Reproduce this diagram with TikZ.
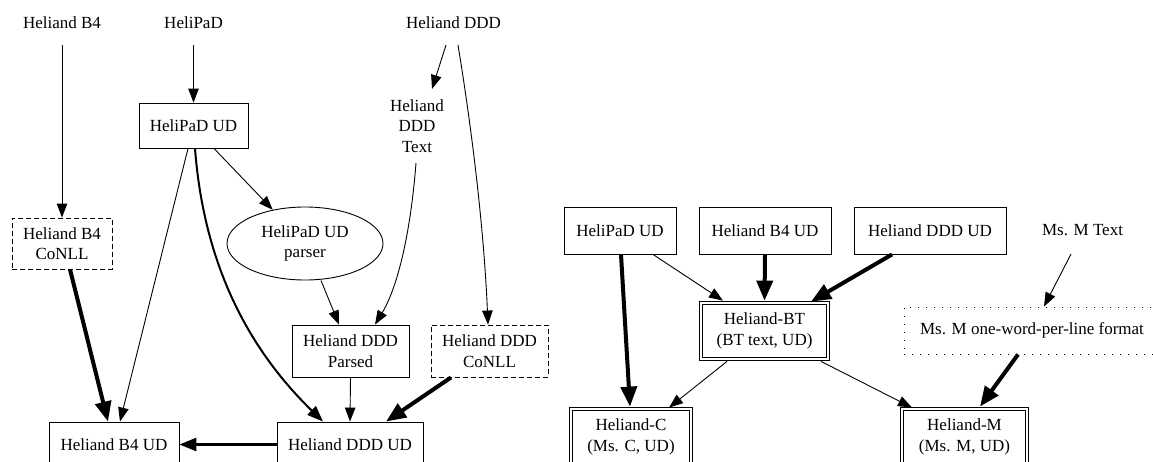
\documentclass[tikz,border=0pt]{standalone}
\usepackage{fontspec}
\setmainfont{Liberation Serif}
\usetikzlibrary{arrows.meta,shapes.geometric}
\tikzset{
  lbl/.style={font=\fontsize{17}{20.5}\selectfont, align=center, inner sep=0pt},
  box/.style={lbl, draw, line width=0.9pt, rectangle},
  dbox/.style={box, dash pattern=on 5pt off 3pt},
  obox/.style={box, dash pattern=on 1pt off 7pt},
  wbox/.style={lbl, draw, line width=0.8pt, double, double distance=2.4pt, rectangle},
  ell/.style={lbl, draw, line width=0.9pt, ellipse, inner sep=0pt},
  ethin/.style={line width=0.9pt, -{Triangle[length=14pt,width=10.5pt]}},
  emed/.style={line width=2pt, -{Triangle[length=16pt,width=12pt]}},
  ebold/.style={line width=4pt, -{Triangle[length=20pt,width=16pt]}},
}
\begin{document}
\begin{tikzpicture}[x=1pt,y=-1pt]
\useasboundingbox (0,0) rectangle (1153,461);
\clip (0,0) rectangle (1153,461);
% ---------- left graph ----------
\node[lbl] (hb4) at (62,23) {Heliand B4};
\node[lbl] (hp) at (193.5,23) {HeliPaD};
\node[lbl] (hddd) at (453.5,23) {Heliand DDD};
\node[box, minimum width=109pt, minimum height=45pt] (hpud) at (193.5,125.5) {HeliPaD UD};
\node[lbl] (dtext) at (417,126) {Heliand\\DDD\\Text};
\node[dbox, minimum width=100pt, minimum height=51pt] (b4c) at (62,243.5) {Heliand B4\\CoNLL};
\node[ell, minimum width=156pt, minimum height=73pt] (parser) at (305,243.5) {HeliPaD UD\\parser};
\node[box, minimum width=117pt, minimum height=52pt] (dparsed) at (350.5,351) {Heliand DDD\\Parsed};
\node[dbox, minimum width=117pt, minimum height=52pt] (dconll) at (489.5,351) {Heliand DDD\\CoNLL};
\node[box, minimum width=130pt, minimum height=45pt] (b4ud) at (114,444.5) {Heliand B4 UD};
\node[box, minimum width=146pt, minimum height=45pt] (dddud) at (350,444.5) {Heliand DDD UD};

\draw[ethin] ([yshift=-22pt]hb4.center) -- (b4c.north);
\draw[ethin] ([yshift=-22pt]hp.center) -- (hpud.north);
\draw[ethin] ([xshift=-7.5pt,yshift=-22pt]hddd.center) -- ([xshift=15pt,yshift=37pt]dtext.center);
\draw[ethin] ([xshift=4.5pt,yshift=-22pt]hddd.center) .. controls (472,130) and (484,230) .. ([xshift=-1.5pt]dconll.north);
\draw[ethin] ([xshift=-5.5pt]hpud.south) -- ([xshift=6pt]b4ud.north);
\draw[emed] ([xshift=1.5pt]hpud.south) .. controls (205,280) and (260,360) .. ([xshift=-27pt]dddud.north);
\draw[ethin] ([xshift=20.5pt]hpud.south) -- (parser);
\draw[ethin] ([xshift=16pt]parser.south) -- ([xshift=-11.5pt]dparsed.north);
\draw[ethin] ([xshift=-1pt,yshift=-37pt]dtext.center) .. controls (410,240) and (396,290) .. ([xshift=24.5pt]dparsed.north);
\draw[ethin] (dparsed.south) -- (dddud.north);
\draw[ebold] ([xshift=-38.5pt]dconll.south) -- ([xshift=36pt]dddud.north);
\draw[ebold] ([xshift=8pt]b4c.south) -- ([xshift=-6pt]b4ud.north);
\draw[line width=2.7pt, -{Triangle[length=17pt,width=13pt]}] (dddud.west) -- (b4ud.east);

% ---------- right graph ----------
\node[box, minimum width=112pt, minimum height=47pt] (rhp) at (620,230.5) {HeliPaD UD};
\node[box, minimum width=132pt, minimum height=47pt] (rb4) at (765,230.5) {Heliand B4 UD};
\node[box, minimum width=152pt, minimum height=47pt] (rddd) at (930,230.5) {Heliand DDD UD};
\node[lbl] (mtext) at (1082.5,230) {Ms. M Text};
\node[wbox, minimum width=127pt, minimum height=56pt] (bt) at (764.5,331) {Heliand-BT\\(BT text, UD)};
\node[obox, minimum width=256pt, minimum height=47pt] (mowpl) at (1032,330.5) {Ms. M one-word-per-line format};
\node[wbox, minimum width=120pt, minimum height=56pt] (hc) at (631,437) {Heliand-C\\(Ms. C, UD)};
\node[wbox, minimum width=125pt, minimum height=56pt] (hm) at (964.5,437) {Heliand-M\\(Ms. M, UD)};

\draw[ethin] ([xshift=33pt]rhp.south) -- ([xshift=-41.5pt,yshift=2pt]bt.north);
\draw[ebold] (rb4.south) -- ([yshift=2pt]bt.north);
\draw[ebold] ([xshift=-38pt]rddd.south) -- ([xshift=46.5pt,yshift=1pt]bt.north);
\draw[ebold] ([xshift=1pt]rhp.south) -- ([xshift=-1pt,yshift=2pt]hc.north);
\draw[ethin] ([xshift=-37.5pt,yshift=-2pt]bt.south) -- ([xshift=38pt,yshift=1pt]hc.north);
\draw[ethin] ([xshift=56.5pt,yshift=-2pt]bt.south) -- ([xshift=-52.5pt,yshift=1pt]hm.north);
\draw[ethin] ([xshift=-11.5pt,yshift=-24pt]mtext.center) -- ([xshift=12pt]mowpl.north);
\draw[ebold] ([xshift=-14pt]mowpl.south) -- ([xshift=15.5pt,yshift=2pt]hm.north);
\end{tikzpicture}
\end{document}
